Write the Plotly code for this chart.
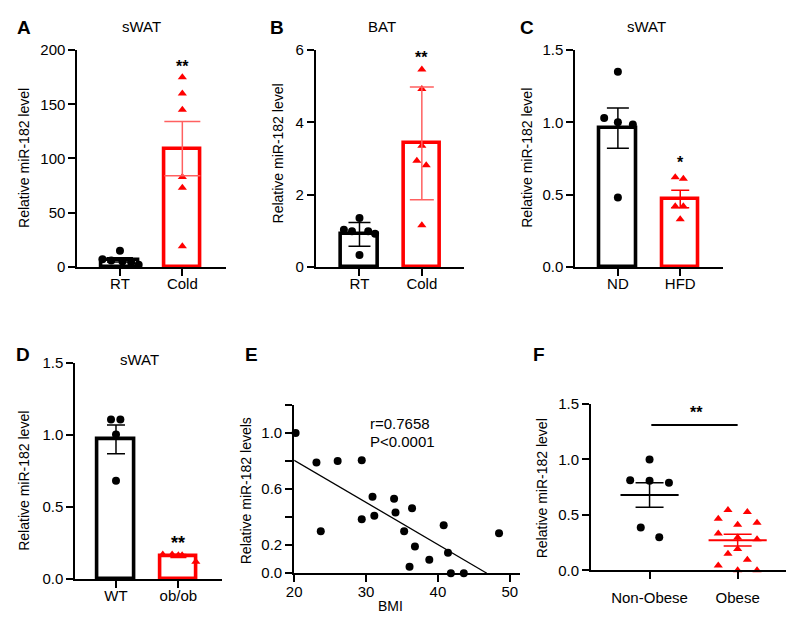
import plotly.graph_objects as go

W, H = 794, 617
FONT = "Liberation Sans, Arial, sans-serif"
RED = "#ff0000"
BLK = "#000000"

# ---------------- data ----------------
cats_A = ["RT", "Cold"]
mean_A = [6.5, 109]
err_A = [2.0, 25]
A_rt_x = [-0.28, -0.14, 0.0, 0.04, 0.18, 0.3]
A_rt_y = [7, 6, 15, 5, 4, 2]
A_cold_x = [0, 0, 0, 0, 0, 0]
A_cold_y = [175, 160, 145, 83, 73, 19]

cats_B = ["RT", "Cold"]
mean_B = [0.9, 3.42]
err_B = [0.33, 1.56]
B_rt_x = [-0.25, -0.12, 0.0, 0.14, 0.25, 0.0]
B_rt_y = [1.03, 0.99, 1.35, 0.99, 0.92, 0.33]
B_cold_x = [0, 0, 0, -0.08, 0.07, 0]
B_cold_y = [5.46, 4.92, 3.35, 2.94, 2.81, 1.15]

cats_C = ["ND", "HFD"]
mean_C = [0.96, 0.47]
err_C = [0.14, 0.06]
C_nd_x = [-0.22, 0.0, 0.24, 0.0, 0.0]
C_nd_y = [1.03, 1.0, 0.985, 1.35, 0.48]
C_hfd_x = [-0.08, 0.05, -0.08, 0.05, 0.0]
C_hfd_y = [0.62, 0.61, 0.42, 0.42, 0.33]

cats_D = ["WT", "ob/ob"]
mean_D = [0.97, 0.16]
err_D = [0.10, 0.01]
D_wt_x = [-0.08, 0.07, 0.0, 0.0]
D_wt_y = [1.108, 1.108, 1.004, 0.683]
D_ob_x = [-0.25, -0.1, 0.0, 0.06, 0.28]
D_ob_y = [0.17, 0.17, 0.165, 0.165, 0.12]

E_bmi = [20.2, 23.1, 26.05, 29.4, 23.7, 29.4, 30.9, 31.15, 33.9, 34.1,
         36.4, 35.3, 36.8, 36.05, 38.8, 40.8, 41.4, 41.8, 43.6, 48.5]
E_mir = [1.0, 0.79, 0.80, 0.806, 0.30, 0.385, 0.546, 0.41, 0.532, 0.433,
         0.463, 0.30, 0.19, 0.046, 0.097, 0.343, 0.147, 0.0, 0.0, 0.286]
E_fit_x = [20, 46.8]
E_fit_y = [0.806, 0.0]

cats_F = ["Non-Obese", "Obese"]
F_non_x = [0.0, -0.22, 0.0, 0.22, -0.1, 0.11]
F_non_y = [1.0, 0.813, 0.807, 0.789, 0.386, 0.298]
F_ob_x = [-0.11, 0.11, -0.22, 0.0, 0.22, -0.22, 0.0, 0.22, 0.0, -0.11, 0.11, -0.22, 0.0, 0.22]
F_ob_y = [0.544, 0.526, 0.465, 0.41, 0.43, 0.333, 0.295, 0.28, 0.193, 0.149, 0.096, 0.044, 0.0, 0.0]
F_mean = [0.68, 0.272]
F_err = [0.11, 0.053]

# ---------------- layout helpers ----------------
def xd(a, b):
    return [a / W, b / W]

def yd(top, bottom):
    return [1 - bottom / H, 1 - top / H]

fig = go.Figure()

axis_common = dict(showline=True, linecolor=BLK, linewidth=2, ticks="outside",
                   ticklen=7, tickwidth=2, tickcolor=BLK, showgrid=False,
                   zeroline=False, tickfont=dict(family=FONT, size=15, color=BLK))

panels = {
    "1": (xd(62, 212), yd(34, 257), [-0.683, 1.698], [0, 200], [0, 50, 100, 150, 200], None),
    "2": (xd(303, 453), yd(34, 257), [-0.698, 1.683], [0, 6], [0, 2, 4, 6], None),
    "3": (xd(565, 714), yd(34, 257), [-0.683, 1.683], [0, 1.5], [0, 0.5, 1.0, 1.5], ".1f"),
    "4": (xd(60, 208), yd(356, 578), [-0.651, 1.698], [0, 1.5], [0, 0.5, 1.0, 1.5], ".1f"),
    "5": (xd(281, 509), yd(399, 572), [20, 51.4], [0, 1.2], None, None),
    "6": (xd(581, 788), yd(398, 569), [-0.663, 1.663], [0, 1.5], [0, 0.5, 1.0, 1.5], ".1f"),
}
cat_labels = {"1": cats_A, "2": cats_B, "3": cats_C, "4": cats_D, "6": cats_F}

lay = {}
for k, (xdom, ydom, xr, yr, yt, yf) in panels.items():
    xn = "xaxis" if k == "1" else "xaxis" + k
    yn = "yaxis" if k == "1" else "yaxis" + k
    xa = dict(axis_common, domain=xdom, range=xr, anchor="y" if k == "1" else "y" + k)
    ya = dict(axis_common, domain=ydom, range=yr, anchor="x" if k == "1" else "x" + k)
    if k in cat_labels:
        xa.update(tickmode="array", tickvals=[0, 1], ticktext=cat_labels[k],
                  ticklabelstandoff=-5)
    if k == "6":
        xa.update(ticklabelstandoff=6)
    if k == "5":
        xa.update(tickmode="array", tickvals=[20, 30, 40, 50], ticklabelstandoff=-3)
        ya.update(tickmode="array", tickvals=[0, 0.2, 0.4, 0.6, 0.8, 1.0, 1.2],
                  ticktext=["0.0", "0.2", "", "0.6", "", "1.0", ""])
    elif yt is not None:
        ya.update(tickmode="array", tickvals=yt)
        if yf:
            ya.update(tickformat=yf)
    lay[xn] = xa
    lay[yn] = ya

def refs(k):
    return ("x", "y") if k == "1" else ("x" + k, "y" + k)

def bar_panel(k, means, errs, pts, err_cols, caps):
    xr, yr = refs(k)
    fig.add_trace(go.Bar(x=[0, 1], y=means, width=0.59, xaxis=xr, yaxis=yr,
                         marker=dict(color="rgba(255,255,255,0)",
                                     line=dict(color=[BLK, RED], width=3.6)),
                         showlegend=False, hoverinfo="skip"))
    for gi, (px, py, sym, col) in enumerate(pts):
        fig.add_trace(go.Scatter(x=[gi + v for v in px], y=py, mode="markers",
                                 xaxis=xr, yaxis=yr,
                                 marker=dict(symbol=sym, size=8, color=col),
                                 cliponaxis=False, showlegend=False))
    for i in range(2):
        fig.add_trace(go.Scatter(x=[i], y=[means[i]], mode="markers", xaxis=xr, yaxis=yr,
                                 marker=dict(size=1, opacity=0),
                                 error_y=dict(type="data", array=[errs[i]], color=err_cols[i],
                                              thickness=1.5, width=caps[i]),
                                 showlegend=False))

bar_panel("1", mean_A, err_A,
          [(A_rt_x, A_rt_y, "circle", BLK), (A_cold_x, A_cold_y, "triangle-up", RED)],
          [BLK, "#ff6060"], [13, 18])
bar_panel("2", mean_B, err_B,
          [(B_rt_x, B_rt_y, "circle", BLK), (B_cold_x, B_cold_y, "triangle-up", RED)],
          [BLK, "#ff6060"], [11, 12])
bar_panel("3", mean_C, err_C,
          [(C_nd_x, C_nd_y, "circle", BLK), (C_hfd_x, C_hfd_y, "triangle-up", RED)],
          [BLK, RED], [11, 9])
bar_panel("4", mean_D, err_D,
          [(D_wt_x, D_wt_y, "circle", BLK), (D_ob_x, D_ob_y, "triangle-up", RED)],
          [BLK, RED], [9, 8])

# Panel E
fig.add_trace(go.Scatter(x=E_fit_x, y=E_fit_y, mode="lines", xaxis="x5", yaxis="y5",
                         line=dict(color=BLK, width=1.3), showlegend=False))
fig.add_trace(go.Scatter(x=E_bmi, y=E_mir, mode="markers", xaxis="x5", yaxis="y5",
                         marker=dict(symbol="circle", size=8, color=BLK),
                         cliponaxis=False, showlegend=False))

# Panel F
fig.add_trace(go.Scatter(x=F_non_x, y=F_non_y, mode="markers", xaxis="x6", yaxis="y6",
                         marker=dict(symbol="circle", size=8, color=BLK),
                         cliponaxis=False, showlegend=False))
fig.add_trace(go.Scatter(x=[1 + v for v in F_ob_x], y=F_ob_y, mode="markers", xaxis="x6", yaxis="y6",
                         marker=dict(symbol="triangle-up", size=8, color=RED),
                         cliponaxis=False, showlegend=False))
for i, col in enumerate([BLK, RED]):
    fig.add_trace(go.Scatter(x=[i - 0.33, i + 0.33], y=[F_mean[i]] * 2, mode="lines",
                             xaxis="x6", yaxis="y6", line=dict(color=col, width=2),
                             showlegend=False))
    fig.add_trace(go.Scatter(x=[i], y=[F_mean[i]], mode="markers", xaxis="x6", yaxis="y6",
                             marker=dict(size=1, opacity=0),
                             error_y=dict(type="data", array=[F_err[i]], color=col,
                                          thickness=1.5, width=14),
                             showlegend=False))
fig.add_trace(go.Scatter(x=[0.02, 1.0], y=[1.31, 1.31], mode="lines", xaxis="x6", yaxis="y6",
                         line=dict(color=BLK, width=2), showlegend=False))

# ---------------- annotations ----------------
ann = []

def pa(text, x, y, size=13, bold=False, angle=0, xanchor="center", yanchor="middle"):
    t = "<b>%s</b>" % text if bold else text
    ann.append(dict(text=t, x=x / W, y=1 - y / H, xref="paper", yref="paper",
                    showarrow=False, textangle=angle, xanchor=xanchor, yanchor=yanchor,
                    font=dict(family=FONT, size=size, color=BLK)))

for lbl, x, y in [("A", 8, 11), ("B", 264, 11), ("C", 516, 11),
                  ("D", 7, 347), ("E", 238, 347), ("F", 528, 347)]:
    pa(lbl, x, y, size=19, bold=True)
for t, x, y in [("sWAT", 127, 10), ("BAT", 370, 10), ("sWAT", 637, 10), ("sWAT", 125, 352)]:
    pa(t, x, y, size=15)
for x, y in [(8, 145), (265, 140), (516, 145), (8, 477), (531, 485)]:
    pa("Relative miR-182 level", x, y, size=14, angle=-90)
pa("Relative miR-182 levels", 232, 487, size=14, angle=-90)
pa("BMI", 378, 616, size=14, yanchor="bottom")
pa("r=0.7658", 356, 418, size=15, xanchor="left")
pa("P&lt;0.0001", 356, 437, size=15, xanchor="left")

def da(text, xr, yr, x, y, size=16):
    ann.append(dict(text="<b>%s</b>" % text, x=x, y=y, xref=xr, yref=yr, showarrow=False,
                    font=dict(family=FONT, size=size, color=BLK)))

da("**", "x", "y", 1, 185)
da("**", "x2", "y2", 1, 5.8)
da("*", "x3", "y3", 1, 0.72)
da("**", "x4", "y4", 1, 0.25, size=18)
da("**", "x6", "y6", 0.53, 1.42)

fig.update_layout(width=W, height=H, margin=dict(l=0, r=0, t=0, b=0),
                  paper_bgcolor="white", plot_bgcolor="white",
                  showlegend=False, annotations=ann, bargap=0, **lay)

fig.write_html("out.html")
